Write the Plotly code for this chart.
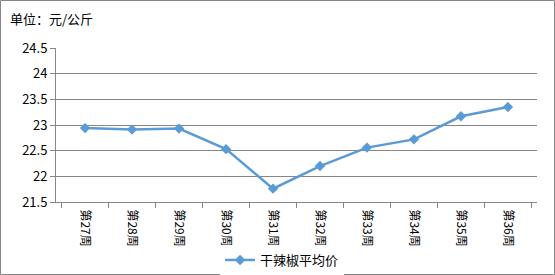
import plotly.graph_objects as go

weeks = ["第27周", "第28周", "第29周", "第30周", "第31周", "第32周", "第33周", "第34周", "第35周", "第36周"]
prices = [22.94, 22.91, 22.93, 22.53, 21.76, 22.20, 22.56, 22.72, 23.17, 23.35]
series_name = "干辣椒平均价"
unit_label = "单位：元/公斤"

W, H = 555, 275
ml, mr, mt, mb = 56, 18, 48, 73
pw, ph = W - ml - mr, H - mt - mb

font_family = "Noto Sans CJK SC, sans-serif"
grey = "#868686"

fig = go.Figure()
fig.add_trace(go.Scatter(
    x=weeks, y=prices, mode="lines+markers", name=series_name,
    line=dict(color="#5B9BD5", width=2.5),
    marker=dict(symbol="diamond", size=8, color="#5B9BD5"),
))

fig.update_layout(
    width=W, height=H,
    margin=dict(l=ml, r=mr, t=mt, b=mb, autoexpand=False),
    paper_bgcolor="white", plot_bgcolor="white",
    font=dict(family=font_family, size=12, color="#000000"),
    showlegend=True,
    legend=dict(orientation="h", x=0.47, xanchor="center", y=-(260 - (H - mb)) / ph, yanchor="middle",
                font=dict(size=13), itemwidth=30),
    xaxis=dict(
        type="category", automargin=False,
        tickson="boundaries", ticks="outside", ticklen=5, tickcolor=grey,
        showline=True, linecolor=grey, linewidth=1, showgrid=False,
        tickangle=90, tickfont=dict(size=12), ticklabelstandoff=4,
    ),
    yaxis=dict(
        range=[21.5, 24.5], dtick=0.5, tickformat="~g", automargin=False,
        ticks="outside", ticklen=5, tickcolor=grey,
        showline=True, linecolor=grey, linewidth=1,
        showgrid=True, gridcolor=grey, gridwidth=1,
        zeroline=False, tickfont=dict(size=13),
    ),
    annotations=[dict(
        text=unit_label, xref="paper", yref="paper",
        x=(8 - ml) / pw, y=1 + (mt - 18) / ph, xanchor="left", yanchor="middle",
        showarrow=False, font=dict(size=13),
    )],
    shapes=[dict(
        type="rect", xref="paper", yref="paper",
        x0=(0.5 - ml) / pw, x1=(W - 0.5 - ml) / pw,
        y0=-(mb - 0.5) / ph, y1=1 + (mt - 0.5) / ph,
        line=dict(color=grey, width=1), fillcolor="rgba(0,0,0,0)", layer="below",
    )],
)

fig.write_html("out.html")
